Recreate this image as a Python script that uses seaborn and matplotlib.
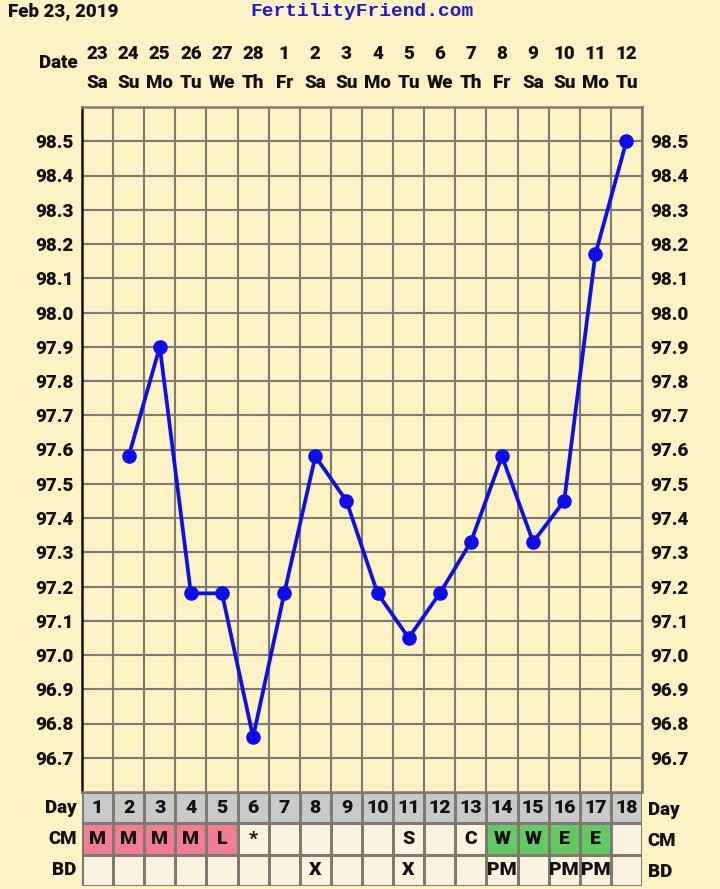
import numpy as np
import pandas as pd
import matplotlib
matplotlib.use("Agg")
import matplotlib.pyplot as plt
from matplotlib.colors import ListedColormap
import seaborn as sns

# ---- data ----
days = list(range(1, 19))
dates = ['23', '24', '25', '26', '27', '28', '1', '2', '3', '4', '5', '6', '7', '8', '9', '10', '11', '12']
weekdays = ['Sa', 'Su', 'Mo', 'Tu', 'We', 'Th', 'Fr', 'Sa', 'Su', 'Mo', 'Tu', 'We', 'Th', 'Fr', 'Sa', 'Su', 'Mo', 'Tu']
temps = [np.nan, 97.58, 97.90, 97.18, 97.18, 96.76, 97.18, 97.58, 97.45, 97.18,
         97.05, 97.18, 97.33, 97.58, 97.33, 97.45, 98.17, 98.50]
cm = ['M', 'M', 'M', 'M', 'L', '*', '', '', '', '', 'S', '', 'C', 'W', 'W', 'E', 'E', '']
bd = ['', '', '', '', '', '', '', 'X', '', '', 'X', '', '', 'PM', '', 'PM', 'PM', '']
temp_ticks = [96.7, 96.8, 96.9, 97.0, 97.1, 97.2, 97.3, 97.4, 97.5, 97.6,
              97.7, 97.8, 97.9, 98.0, 98.1, 98.2, 98.3, 98.4, 98.5]
row_labels = ['Day', 'CM', 'BD']

# ---- style ----
BG = '#FCF2C4'
GRID = '#7d7b70'
LINE = '#0d0df0'
GRAY = '#C9C9C9'
PINK = '#F27C96'
GREEN = '#64C864'
CREAM = '#FBF2DF'
FW = 'heavy'

sns.set_theme(style="white")
plt.rcParams['font.family'] = ['Roboto', 'DejaVu Sans']

W, H = 720, 889
fig = plt.figure(figsize=(W / 100, H / 100), dpi=100, facecolor=BG)

L, R = 82, 642
T_top, T_bot = 107, 792
B_bot = 886
ax = fig.add_axes([L / W, 1 - T_bot / H, (R - L) / W, (T_bot - T_top) / H])
tax = fig.add_axes([L / W, 1 - B_bot / H, (R - L) / W, (B_bot - T_bot) / H])
ax.set_facecolor(BG)

df = pd.DataFrame({'day': days, 'temp': temps}).dropna()
sns.lineplot(data=df, x='day', y='temp', ax=ax, color=LINE, linewidth=2.7,
             marker='o', markersize=10.5, markeredgewidth=0, zorder=5)

ax.set_xlim(0.5, 18.5)
ax.set_ylim(96.6, 98.6)
ax.set_yticks(temp_ticks)
ax.set_yticklabels([f"{t:.1f}" for t in temp_ticks], fontsize=13.5, fontweight=FW)
ax.set_xticks(days)
ax.set_xticklabels([f"{d}\n{w}" for d, w in zip(dates, weekdays)],
                   fontsize=13.5, fontweight=FW, linespacing=1.8)
ax.set_xticks([d - 0.5 for d in days] + [18.5], minor=True)
ax.xaxis.tick_top()
ax.tick_params(axis='x', which='both', length=0, pad=11, colors='#111111')
ax.tick_params(axis='y', which='both', length=0, pad=6, labelright=True, labelleft=True,
               colors='#111111')
ax.grid(True, axis='x', which='minor', color=GRID, linewidth=1.5)
ax.grid(True, axis='y', which='major', color=GRID, linewidth=1.5)
ax.grid(False, axis='x', which='major')
ax.set_xlabel('')
ax.set_ylabel('')
for s in ['top', 'right', 'bottom']:
    ax.spines[s].set_color(GRID)
    ax.spines[s].set_linewidth(1.8)
ax.spines['left'].set_color('#111111')
ax.spines['left'].set_linewidth(1.8)

# ---- table ----
def cm_code(v):
    if v in ('M', 'L'):
        return 1
    if v in ('W', 'E'):
        return 2
    return 3

codes = np.array([[0] * 18, [cm_code(v) for v in cm], [3] * 18])
annots = np.array([[str(d) for d in days], cm, bd], dtype=object)
sns.heatmap(codes, ax=tax, cmap=ListedColormap([GRAY, PINK, GREEN, CREAM]),
            vmin=-0.5, vmax=3.5, cbar=False, annot=annots, fmt='',
            linewidths=2, linecolor=GRID,
            annot_kws=dict(fontsize=14, fontweight=FW, color='#111111'))
tax.set_xticks([])
tax.set_yticks([0.5, 1.5, 2.5])
tax.set_yticklabels(row_labels, rotation=0, fontsize=13.5, fontweight=FW)
tax.tick_params(axis='y', length=0, pad=4, labelright=True, labelleft=True, colors='#111111')
for s in tax.spines.values():
    s.set_visible(False)

# ---- header texts ----
fig.text(8 / W, 1 - 11 / H, 'Feb 23, 2019', fontsize=13.5, fontweight=FW,
         color='#111111', ha='left', va='center')
fig.text(362 / W, 1 - 11 / H, 'FertilityFriend.com', fontsize=14, fontweight='bold',
         color='#1a1ad8', ha='center', va='center', family=['Liberation Mono', 'DejaVu Sans Mono'])
fig.text(78 / W, 1 - 63 / H, 'Date', fontsize=13.5, fontweight=FW, color='#111111',
         ha='right', va='center')

fig.savefig('out.png', dpi=100, facecolor=BG)
